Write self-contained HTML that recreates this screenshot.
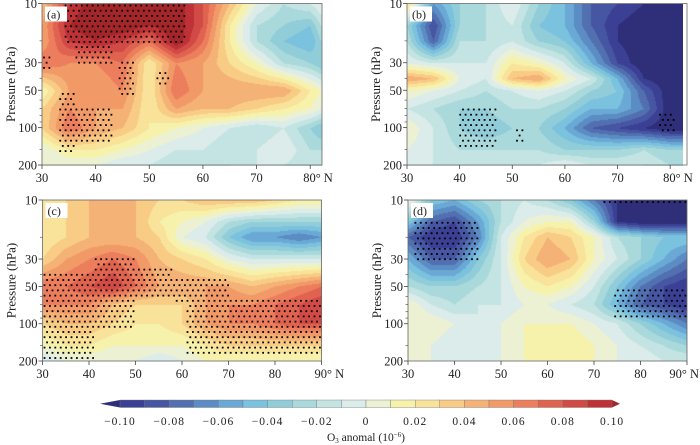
<!DOCTYPE html>
<html><head><meta charset="utf-8">
<style>
body{margin:0;background:#fff;}
#root{position:relative;width:700px;height:445px;overflow:hidden;background:#fff;font-family:"Liberation Serif",serif;}
canvas{position:absolute;}
svg{position:absolute;left:0;top:0;}
</style></head>
<body>
<div id="root">
<svg id="ov" width="700" height="445"></svg>
</div>
<script>
// ---- data (units of 0.01 ppm) ----
const pLevels = [10,15,20,30,50,70,100,150,200];
const pLevelsB = [10,15,20,30,40,50,70,100,150,200];
const latsAB = [30,35,40,45,50,55,60,65,70,75,80,82];
const latsCD = [30,35,40,45,50,55,60,65,70,75,80,85,90];
const valsA = [
[4,9,11,11,10,11,8,4,0,-2,-1,0],
[5,10,11,11,10,11,8,2,-2,-3,-4,-2],
[5,9,10,9,7,11,7,2,-2,-4,-5,-3],
[7,6,6,7,2,6,5,3,1,-2,-3,-4],
[1,5,5,6,2,7,5,5,5,5,2,1],
[3,6,5,5,2,5,4,4,3,2,1,0],
[3,7,5,4,2,1,0,-1,-2,-1,-3,-4],
[0,2,2,1,0,-1,-1,-2,-1,0,-2,-2],
[0,0,0,-1,-1,-2,-2,-1,-1,-1,-2,-2]];
const valsB = [
[3,-6,-3,-2,0,-3,-5,-8,-9,-10,-10,-10],
[-3,-9,-3,-2,-1,-4,-5,-8,-10,-11,-11,-11],
[-2,-8,-2,-2,-1,-3,-4,-7,-10,-11,-11,-11],
[0,-1,-1,-1,2,1,-1,-5,-9,-11,-11,-11],
[5,4,0,-1,4,5,1,-1,-5,-10,-11,-11],
[1,0,-1,-2,-1,0,-1,-3,-4,-8,-11,-11],
[-1,-2,-3,-3,-2,-2,-3,-5,-5,-7,-11,-11],
[1,-1,-3,-4,-3,-3,-5,-8,-9,-10,-11,-11],
[0,-1,-2,-2,-2,-2,-3,-3,-3,-2,-3,-3],
[-1,-1,-1,-1,-1,-1,0,-1,-1,-1,-2,-2]];
const valsC = [
[2,3,4,4,4,3,3,4,4,4,3,2,2],
[2,3,4,4,4,2,1,0,-2,-3,-3,-3,-3],
[2,3,4,4,4,3,0,-1,-4,-6,-6,-7,-6],
[3,5,6,7,6,4,3,2,0,-1,-1,-1,-1],
[7,7,8,9,7,5,5,5,5,4,5,6,7],
[6,6,6,4,3,3,3,5,6,6,7,8,9],
[3,4,4,3,2,2,3,5,6,6,7,8,8],
[1,2,2,1,1,1,1,2,3,3,3,3,3],
[-1,0,0,0,0,-1,0,1,1,1,1,1,1]];
const valsD = [
[1,-4,-5,-3,-2,-1,-2,-4,-7,-10,-11,-11,-11],
[-4,-8,-9,-6,-2,0,1,1,-3,-10,-11,-11,-11],
[-8,-10,-10,-7,-1,2,4,3,1,-2,-3,-4,-4],
[-5,-8,-8,-4,-1,3,5,4,1,-1,-3,-5,-7],
[-2,-3,-3,-2,-1,1,2,1,-1,-4,-7,-9,-10],
[1,-1,-2,-1,-1,0,0,-1,-2,-5,-8,-9,-10],
[1,1,0,-1,0,1,1,1,0,-1,-3,-5,-7],
[1,0,-1,-1,0,1,1,2,1,0,-1,-2,-3],
[1,0,0,0,0,1,1,1,1,0,0,-1,-1]];
// significance regions [latMin, latMax, pMin, pMax]
const sigA = [[34,57,10,22],[36,43,22,31],[44,47,28,58],[51,54,35,48],[30,31.5,27,36],[33,36,50,170],[36,43,70,130]];
const sigB = [[40,47,70,150],[50.5,52,100,130],[78,81,75,115]];
const sigC = [[30,41,40,200],[41,50,30,110],[50,58,35,62],[58,70,42,68],[61,90,60,175]];
const sigD = [[31,45,15,32],[72,90,10,10.6],[74,90,50,90]];
const levelLabels = ["\u22120.10","\u22120.08","\u22120.06","\u22120.04","\u22120.02","0","0.02","0.04","0.06","0.08","0.10"];
const latTicksAB = ["30","40","50","60","70","80\u00b0 N"];
const latTicksCD = ["30","40","50","60","70","80","90\u00b0 N"];
const pTicks = [10,30,50,100,200];
const pMinor = [20,40,60,70,80,90,150];
const colors = ["#3b4094","#4656a2","#5270b0","#5b8cc3","#6aa9d5","#7bc2de","#91cdd9","#aad9dc","#c3e4e2","#dcecea",
"#ebf1d2","#f7f2ab","#f9e39a","#f8cc85","#f5b276","#f29968","#ec7e5d","#e06350","#d24a45","#be3237"];
const extLow="#2e2f78", extHigh="#a3262a";

const panels = [
 {id:"a",lats:latsAB,ps:pLevels,vals:valsA,sig:sigA,x0:42,x1:322,latMax:82.2,dataRight:322,y0:3.5,y1:165,ticks:latTicksAB,tickLat:[30,40,50,60,70,80]},
 {id:"b",lats:latsAB,ps:pLevelsB,vals:valsB,sig:sigB,x0:407,x1:687,latMax:83.2,dataRight:683,y0:3.5,y1:165,ticks:latTicksAB,tickLat:[30,40,50,60,70,80]},
 {id:"c",lats:latsCD,ps:pLevels,vals:valsC,sig:sigC,x0:42.5,x1:321.5,latMax:90,dataRight:321.5,y0:200,y1:361,ticks:latTicksCD,tickLat:[30,40,50,60,70,80,90]},
 {id:"d",lats:latsCD,ps:pLevels,vals:valsD,sig:sigD,x0:408,x1:687,latMax:90,dataRight:687,y0:200,y1:361,ticks:latTicksCD,tickLat:[30,40,50,60,70,80,90]}
];
const root=document.getElementById('root');
const ov=document.getElementById('ov');
const NS="http://www.w3.org/2000/svg";
function mk(tag,attrs,parent){const e=document.createElementNS(NS,tag);for(const k in attrs)e.setAttribute(k,attrs[k]);(parent||ov).appendChild(e);return e;}
function interp(P,lat,p){
 const L=P.lats,ps=P.ps,V=P.vals;
 let i=0;while(i<L.length-2&&lat>L[i+1])i++;
 let tx=(lat-L[i])/(L[i+1]-L[i]);tx=Math.max(0,Math.min(1,tx));
 const lp=Math.log10(p);let j=0;while(j<ps.length-2&&lp>Math.log10(ps[j+1]))j++;
 let ty=(lp-Math.log10(ps[j]))/(Math.log10(ps[j+1])-Math.log10(ps[j]));ty=Math.max(0,Math.min(1,ty));
 const a=V[j][i],b=V[j][i+1],c=V[j+1][i],d=V[j+1][i+1];
 return (a*(1-tx)+b*tx)*(1-ty)+(c*(1-tx)+d*tx)*ty;
}
function colorFor(v){ if(v<-10)return extLow; if(v>=10)return extHigh; return colors[Math.floor(v)+10]; }
function hex(c){return [parseInt(c.slice(1,3),16),parseInt(c.slice(3,5),16),parseInt(c.slice(5,7),16)];}
panels.forEach(P=>{
 const lat=x=>30+(x-P.x0)/(P.x1-P.x0)*(P.latMax-30);
 const xOf=l=>P.x0+(l-30)/(P.latMax-30)*(P.x1-P.x0);
 const pOf=y=>Math.pow(10,1+(y-P.y0)/(P.y1-P.y0)*Math.log10(20));
 const yOf=p=>P.y0+(Math.log10(p)-1)/Math.log10(20)*(P.y1-P.y0);
 const W=Math.round(P.dataRight-P.x0),H=Math.round(P.y1-P.y0);
 const cv=document.createElement('canvas');cv.width=W;cv.height=H;
 cv.style.left=P.x0+'px';cv.style.top=P.y0+'px';
 
 
 root.insertBefore(cv,ov);
 const ctx=cv.getContext('2d');const img=ctx.createImageData(W,H);
 for(let y=0;y<H;y++)for(let x=0;x<W;x++){
  const v=interp(P,lat(P.x0+x+0.5),pOf(P.y0+y+0.5));const c=hex(colorFor(v));const k=(y*W+x)*4;
  img.data[k]=c[0];img.data[k+1]=c[1];img.data[k+2]=c[2];img.data[k+3]=255;}
 ctx.putImageData(img,0,0);
 const g=mk('g',{});
 
 
 let row=0;
 for(let y=P.y0+2;y<P.y1-1;y+=5.2,row++){
  for(let x=P.x0+2+(row%2)*2.6;x<P.dataRight-1;x+=5.4){
   const la=lat(x),pp=pOf(y);let sig=false;
   P.sig.forEach(bx=>{if(la>=bx[0]&&la<=bx[1]&&pp>=bx[2]&&pp<=bx[3])sig=true;});
   if(sig)mk('rect',{x:x-0.9,y:y-0.9,width:1.8,height:1.8,fill:'#000'},g);
  }}
 const fr=mk('rect',{x:P.x0,y:P.y0,width:P.x1-P.x0,height:P.y1-P.y0,fill:'none',stroke:'#666','stroke-width':0.8});
 
 
 mk('rect',{x:P.x0+3,y:P.y0+3,width:22,height:15,fill:'#fff'});
 const lt=mk('text',{x:P.x0+5,y:P.y0+15,'font-size':12,fill:'#222'});lt.textContent='('+P.id+')';
 
 
 P.tickLat.forEach((l,i)=>{const x=xOf(l);const last=i==P.tickLat.length-1;
  mk('line',{x1:x,x2:x,y1:P.y1,y2:P.y1+4,stroke:'#444','stroke-width':0.8});
  let tx=last?x-7:x, anchor=last?'start':'middle';
  if(last && x>680){tx=699;anchor='end';}
  const t=mk('text',{x:tx,y:P.y1+17,'font-size':12.5,'text-anchor':anchor,fill:'#222'});
  t.textContent=P.ticks[i];
  
  
 });
 pTicks.forEach(p=>{const y=yOf(p);
  mk('line',{x1:P.x0-4,x2:P.x0,y1:y,y2:y,stroke:'#444','stroke-width':0.8});
  const t=mk('text',{x:P.x0-5,y:y+4.5,'font-size':12.5,'text-anchor':'end',fill:'#222'});t.textContent=p;
  
  });
 pMinor.forEach(p=>{const y=yOf(p);mk('line',{x1:P.x0-2.5,x2:P.x0,y1:y,y2:y,stroke:'#444','stroke-width':0.6});});
 const yt=mk('text',{x:0,y:0,'font-size':13,'text-anchor':'middle',fill:'#222',transform:`translate(${P.x0-27},${(P.y0+P.y1)/2}) rotate(-90)`});
 yt.textContent='Pressure (hPa)';
 
 
});
const cb=mk('g',{});


const cbx0=120,cbx1=612,cby=400,cbh=7.5,bw=(cbx1-cbx0)/colors.length;
mk('polygon',{points:`${cbx0},${cby} ${cbx0},${cby+cbh} 100,${cby+cbh/2}`,fill:extLow},cb);
mk('polygon',{points:`${cbx1},${cby} ${cbx1},${cby+cbh} 620,${cby+cbh/2}`,fill:extHigh},cb);
colors.forEach((c,i)=>mk('rect',{x:cbx0+i*bw,y:cby,width:bw,height:cbh,fill:c,stroke:'#777','stroke-width':0.4},cb));
levelLabels.forEach((s,i)=>{const t=mk('text',{x:cbx0+i*2*bw,y:425,'font-size':11.5,'text-anchor':'middle',fill:'#222','letter-spacing':'1'},cb);t.textContent=s;
 
 });
const ct=mk('text',{x:366,y:441,'font-size':11.5,'text-anchor':'middle',fill:'#222'},cb);
ct.innerHTML='O<tspan font-size="7" dy="2">3</tspan><tspan dy="-2"> anomal (10</tspan><tspan font-size="7" dy="-4">\u22126</tspan><tspan dy="4">)</tspan>';


</script>
</body></html>
